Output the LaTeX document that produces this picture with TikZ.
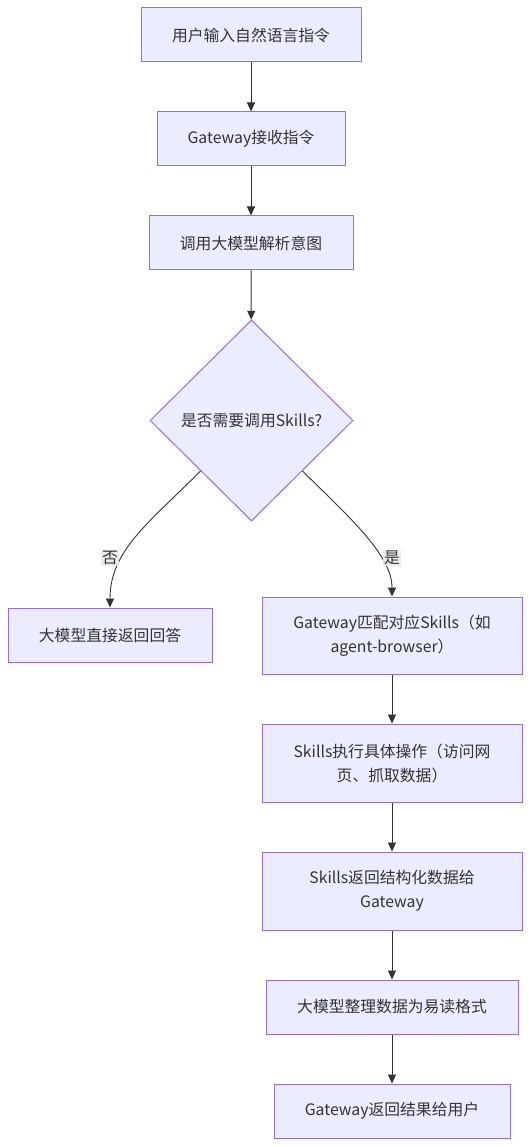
\documentclass[tikz,border=0pt]{standalone}
\usepackage{fontspec}
\setmainfont{Noto Sans CJK SC}
\usetikzlibrary{shapes.geometric,arrows.meta}
\definecolor{nodefill}{HTML}{ECECFF}
\definecolor{nodeline}{HTML}{9370DB}
\definecolor{edgecol}{HTML}{333333}
\definecolor{lblbg}{HTML}{E8E8E8}
\definecolor{txt}{HTML}{333333}
\tikzset{
  x=1pt,y=-1pt,
  proc/.style={draw=nodeline,fill=nodefill,line width=1pt,rectangle,inner sep=0pt,align=center,text=txt,font=\fontsize{15.8}{24}\selectfont},
  dec/.style={draw=nodeline,fill=nodefill,line width=1pt,diamond,inner sep=0pt,minimum width=203pt,minimum height=201pt,aspect=1,text=txt,font=\fontsize{15.8}{24}\selectfont},
  flow/.style={draw=edgecol,line width=0.9pt,-{Triangle[width=8pt,length=9pt]}},
  lbl/.style={fill=lblbg,fill opacity=0.85,text opacity=1,inner sep=1.5pt,text=txt,font=\fontsize{15.8}{18}\selectfont}
}
\begin{document}
\begin{tikzpicture}
\useasboundingbox (0,0) rectangle (530,1147);
\node[proc,minimum width=220pt,minimum height=54pt] (n1) at (251,35) {用户输入自然语言指令};
\node[proc,minimum width=188pt,minimum height=54pt] (n2) at (251,139) {Gateway接收指令};
\node[proc,minimum width=204pt,minimum height=54pt] (n3) at (251,243) {调用大模型解析意图};
\node[dec] (n4) at (251.5,420.5) {是否需要调用Skills?};
\node[proc,minimum width=204pt,minimum height=54pt] (n5) at (110,635) {大模型直接返回回答};
\node[proc,minimum width=260pt,minimum height=77pt] (n6) at (392,635.5) {Gateway匹配对应Skills（如\\agent-browser）};
\node[proc,minimum width=260pt,minimum height=78pt] (n7) at (392,763) {Skills执行具体操作（访问网\\页、抓取数据）};
\node[proc,minimum width=260pt,minimum height=78pt] (n8) at (392,891) {Skills返回结构化数据给\\Gateway};
\node[proc,minimum width=252pt,minimum height=54pt] (n9) at (392,1007) {大模型整理数据为易读格式};
\node[proc,minimum width=236pt,minimum height=54pt] (n10) at (392,1111) {Gateway返回结果给用户};
\draw[flow] (n1) -- (n2);
\draw[flow] (n2) -- (n3);
\draw[flow] (n3) -- (n4);
\draw[flow] (n4.south west) .. controls (150,522) and (110,550) .. (n5.north);
\draw[flow] (n4.south east) .. controls (350,518) and (392,555) .. (n6.north);
\node[lbl] (l1) at (110,558) {否};
\node[lbl] (l2) at (392,558) {是};
\draw[flow] (n6) -- (n7);
\draw[flow] (n7) -- (n8);
\draw[flow] (n8) -- (n9);
\draw[flow] (n9) -- (n10);
\end{tikzpicture}
\end{document}
